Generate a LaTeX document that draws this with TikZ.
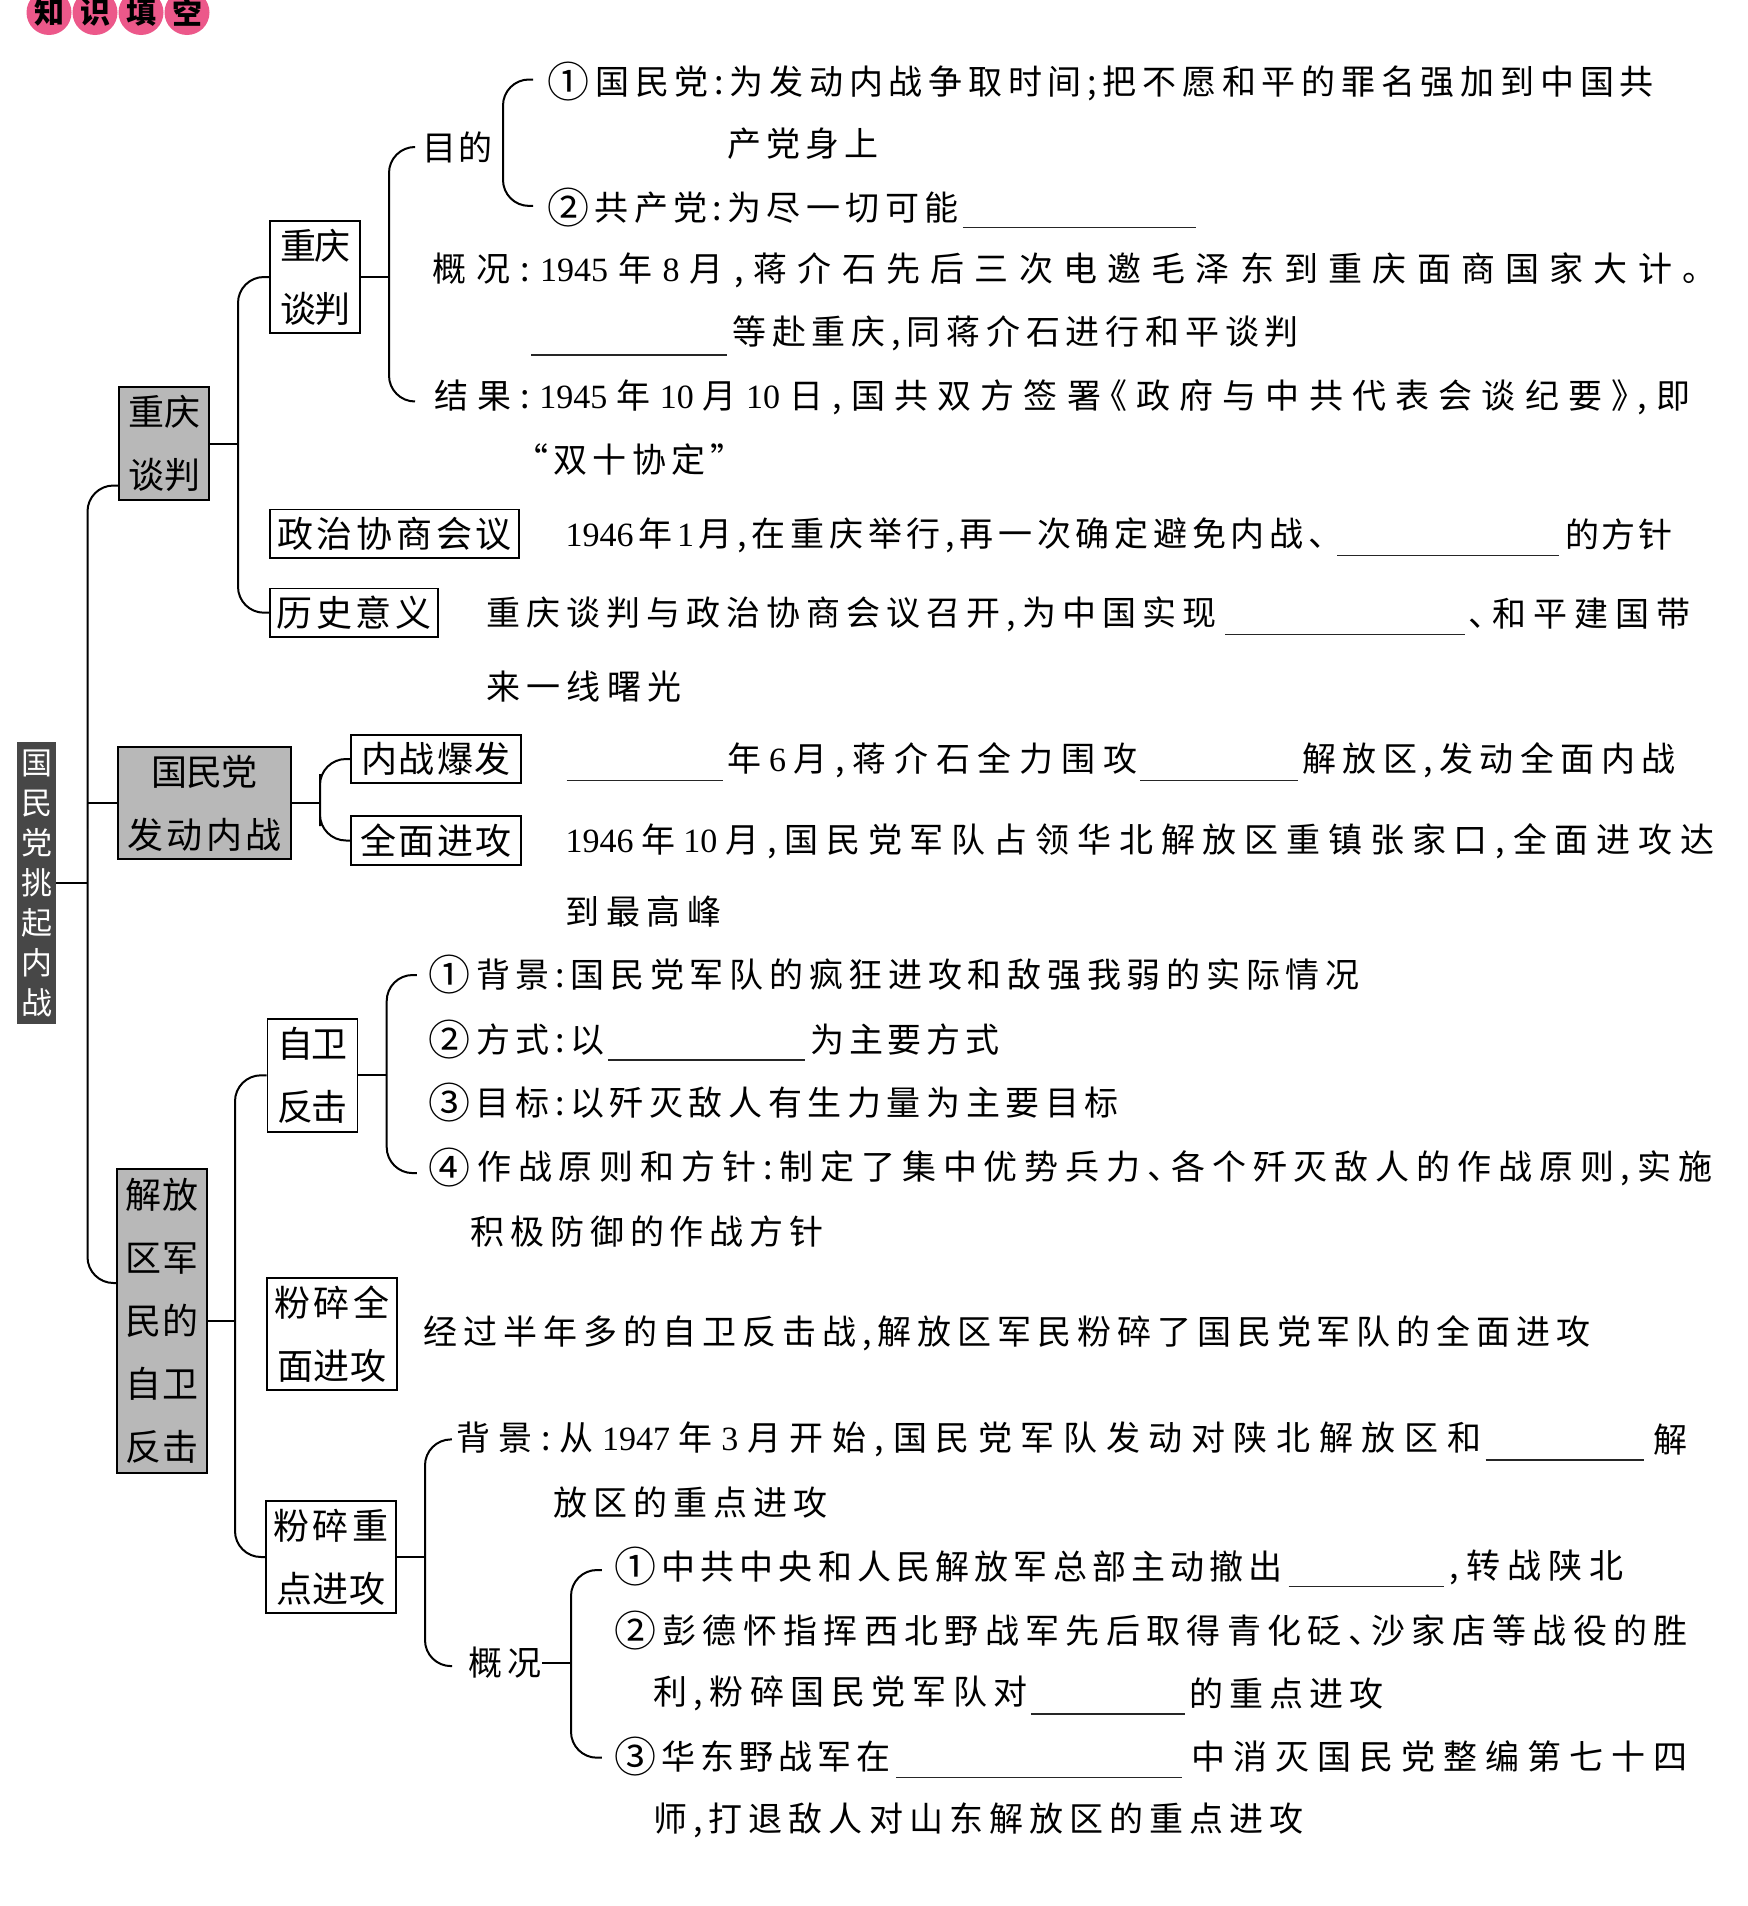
\documentclass[tikz,border=0pt]{standalone}
\usepackage{fontspec}
\setmainfont{Noto Sans CJK SC}
\newfontfamily\latfont{Liberation Serif}
\newcommand\Dg[1]{{\latfont #1}}
\newcommand\cn[1]{\raisebox{-1.6pt}{\fontsize{21}{21}\selectfont #1}}
\newcommand\dun{\hbox to 0.5em{、\hss}}
\newcommand\lbk{\hbox to 0.5em{\hss《}}
\newcommand\rbk{\hbox to 0.5em{》\hss}}
\newcommand\lqm{\hbox to 0.5em{\hss“}}
\newcommand\rqm{\hbox to 0.5em{”\hss}}
\def\gp{\hskip0pt plus 1fil minus 1fil\relax}
\def\sprd#1{\sprdfirst#1\relax}
\def\sprdfirst#1{#1\sprdrest}
\def\sprdrest#1{\ifx\relax#1\else\gp#1\expandafter\sprdrest\fi}
\newcommand\TL[5]{\node[txt] (#1) at (#2,#4) {\hbox to \dimexpr(#3pt-#2pt)/2\relax{\sprd{#5}}};}
\newcommand\BL[3]{\draw[blank] (#1,#3) -- (#2,#3);}
\newcommand\BX[2]{\hbox to \dimexpr #1pt/2\relax{\sprd{#2}}}
\definecolor{pinkc}{RGB}{236,88,138}
\begin{document}
\begin{tikzpicture}[x=0.5pt,y=-0.5pt]
\tikzset{
  box/.style={draw, line width=0.9pt, inner sep=0, align=center, font=\fontsize{18}{31.5}\selectfont},
  gbox/.style={box, fill=black!28},
  rootbox/.style={fill=black!72, text=white, inner sep=0, align=center, font=\fontsize{15.5}{20}\selectfont},
  badge/.style={circle, fill=pinkc, minimum size=22.5pt, inner sep=0, font=\fontsize{15}{15}\selectfont\bfseries},
  conn/.style={line width=1pt, rounded corners=13pt},
  blank/.style={line width=0.6pt, black!85},
  txt/.style={anchor=west, inner sep=0, font=\fontsize{17}{34}\selectfont},
}
\useasboundingbox (0,0) rectangle (1747,1906);
\fill[white] (0,0) rectangle (1747,1906);

% badge
\node[badge] (k1) at (49,12.5) {知};
\node[badge] (k2) at (95,12.5) {识};
\node[badge] (k3) at (141,12.5) {填};
\node[badge] (k4) at (187,12.5) {空};

% root
\node[rootbox, minimum width=19.5pt, minimum height=141pt] (root) at (36.5,883) {国\\民\\党\\挑\\起\\内\\战};

% level 1 boxes
\node[gbox, minimum width=45pt, minimum height=56.5pt] (b1) at (164,443.5) {\BX{72}{重庆}\\\BX{72}{谈判}};
\node[gbox, minimum width=86.5pt, minimum height=56pt] (b2) at (204.5,803) {\BX{106.6}{国民党}\\\BX{155}{发动内战}};
\node[gbox, minimum width=45pt, minimum height=152pt] (b3) at (162,1321) {\BX{73}{解放}\\\BX{73}{区军}\\\BX{73}{民的}\\\BX{73}{自卫}\\\BX{73}{反击}};

% level 2 boxes
\node[box, minimum width=45pt, minimum height=56pt] (sub) at (315,277) {\BX{70}{重庆}\\\BX{70}{谈判}};
\node[box, minimum width=124.5pt, minimum height=24.3pt] (zz) at (394.5,533.7) {\BX{235}{政治协商会议}};
\node[box, minimum width=83.85pt, minimum height=24.3pt] (hs) at (353.85,612.7) {\BX{154.6}{历史意义}};
\node[box, minimum width=85pt, minimum height=24pt] (nz) at (436,759) {\BX{150}{内战爆发}};
\node[box, minimum width=85pt, minimum height=24.5pt] (qm) at (436,840.5) {\BX{152}{全面进攻}};
\node[box, minimum width=45pt, minimum height=56.5pt] (zw) at (312.5,1075.3) {\BX{70.4}{自卫}\\\BX{70.4}{反击}};
\node[box, minimum width=65pt, minimum height=56pt] (qz) at (332,1334) {\BX{115}{粉碎全}\\\BX{110}{面进攻}};
\node[box, minimum width=65pt, minimum height=56pt] (zd) at (331,1557) {\BX{115}{粉碎重}\\\BX{110}{点进攻}};

% texts: 重庆谈判
\TL{md}{422}{492}{147}{目的}
\TL{t1}{547.1}{1653.4}{81.5}{{\cn{①}}国民党:为发动内战争取时间;把不愿和平的罪名强加到中国共}
\TL{t2}{727}{877.7}{143.5}{产党身上}
\TL{t3}{547.1}{958}{207.9}{{\cn{②}}共产党:为尽一切可能}
\BL{962.8}{1196.3}{227.3}
\TL{t4}{431.6}{1716}{269.9}{概况:{\Dg{1945}}年{\Dg{8}}月,蒋介石先后三次电邀毛泽东到重庆面商国家大计。}
\BL{531.3}{727}{355}
\TL{t5}{731.9}{1298.4}{333.1}{等赴重庆,同蒋介石进行和平谈判}
\TL{t6}{434}{1689.8}{397.5}{结果:{\Dg{1945}}年{\Dg{10}}月{\Dg{10}}日,国共双方签署{\lbk}政府与中共代表会谈纪要{\rbk},即}
\TL{t7}{531.3}{727}{459.5}{{\lqm}双十协定{\rqm}}
\TL{t8}{565.3}{1325}{534.9}{{\Dg{1946}}年{\Dg{1}}月,在重庆举行,再一次确定避免内战{\dun}}
\BL{1337.3}{1558.5}{555.6}
\TL{t8b}{1564.6}{1671.6}{534.9}{的方针}
\TL{t9}{486.3}{1215.7}{613.9}{重庆谈判与政治协商会议召开,为中国实现}
\BL{1225.4}{1465}{634.6}
\TL{t9b}{1468}{1689.8}{613.9}{{\dun}和平建国带}
\TL{t10}{486.3}{680.8}{686.9}{来一线曙光}

% texts: 国民党发动内战
\BL{566.5}{723.3}{780.5}
\TL{t11}{727}{1136.7}{759.8}{年{\Dg{6}}月,蒋介石全力围攻}
\BL{1140.3}{1298.4}{780.5}
\TL{t11b}{1302}{1675.2}{759.8}{解放区,发动全面内战}
\TL{t12}{565.3}{1714.1}{841.3}{{\Dg{1946}}年{\Dg{10}}月,国民党军队占领华北解放区重镇张家口,全面进攻达}
\TL{t13}{565.3}{720.9}{911.8}{到最高峰}

% texts: 自卫反击
\TL{t14}{427.9}{1359.2}{975}{{\cn{①}}背景:国民党军队的疯狂进攻和敌强我弱的实际情况}
\TL{t15}{427.9}{604.2}{1039.4}{{\cn{②}}方式:以}
\BL{607.9}{804.8}{1060}
\TL{t15b}{809.7}{999.3}{1039.4}{为主要方式}
\TL{t16}{427.9}{1118.4}{1102.6}{{\cn{③}}目标:以歼灭敌人有生力量为主要目标}
\TL{t17}{427.9}{1711.7}{1167.1}{{\cn{④}}作战原则和方针:制定了集中优势兵力{\dun}各个歼灭敌人的作战原则,实施}
\TL{t18}{470.5}{823}{1231.5}{积极防御的作战方针}
\TL{t19}{423.1}{1590.1}{1333.6}{经过半年多的自卫反击战,解放区军民粉碎了国民党军队的全面进攻}

% texts: 粉碎重点进攻
\TL{t20}{455.9}{1480.7}{1439.4}{背景:从{\Dg{1947}}年{\Dg{3}}月开始,国民党军队发动对陕北解放区和}
\BL{1485.6}{1643.6}{1460}
\TL{t20b}{1653.4}{1687.4}{1439.4}{解}
\TL{t21}{553.1}{826.7}{1502.6}{放区的重点进攻}
\TL{gk}{468}{541}{1663.1}{概况}
\TL{t23}{613.9}{1282.6}{1567}{{\cn{①}}中共中央和人民解放军总部主动撤出}
\BL{1288.6}{1444.3}{1586.5}
\TL{t23b}{1449.1}{1623}{1567}{,转战陕北}
\TL{t24}{613.9}{1687.4}{1630.3}{{\cn{②}}彭德怀指挥西北野战军先后取得青化砭{\dun}沙家店等战役的胜}
\TL{t25}{652.8}{1027.3}{1693.5}{利,粉碎国民党军队对}
\BL{1030.9}{1185.3}{1714}
\TL{t25b}{1189}{1383.5}{1693.5}{的重点进攻}
\TL{t26}{613.9}{889.9}{1756.7}{{\cn{③}}华东野战军在}
\BL{896}{1181.7}{1777.4}
\TL{t26b}{1191.4}{1687.4}{1756.7}{中消灭国民党整编第七十四}
\TL{t27}{652.8}{1303.2}{1819.9}{师,打退敌人对山东解放区的重点进攻}

% connectors: root
\draw[conn] (root.east) -- (87.5,883);
\draw[conn] ([yshift=-21pt]b1.west) -| (87.5,900) |- ([yshift=19pt]b3.west);
\draw[conn] (b2.west) -- (87.5,803);

% connectors: 重庆谈判
\draw[conn] (b1.east) -- (238,443.5);
\draw[conn] (sub.west) -| (238,500) |- (hs.west);
\draw[conn] (sub.east) -- (389,277);
\draw[conn] ([xshift=-4pt]md.west) -| (389,300) |- ([xshift=-9.5pt,yshift=-2pt]t6.west);
\draw[conn] ([xshift=-7pt,yshift=1pt]t1.west) -| (503,150) |- ([xshift=-7pt,yshift=1pt]t3.west);

% connectors: 国民党发动内战
\draw[conn] (b2.east) -- (320,803);
\draw[conn] (nz.west) -| (320,800) |- (qm.west);

% connectors: 解放区军民的自卫反击
\draw[conn] (b3.east) -- (235,1321);
\draw[conn] (zw.west) -| (235,1300) |- (zd.west);
\draw[conn] (zw.east) -- (386.7,1075.3);
\draw[conn] ([xshift=-5.5pt]t14.west) -| (386.7,1075) |- ([xshift=-5.5pt,yshift=-3pt]t17.west);
\draw[conn] (zd.east) -- (425,1557);
\draw[conn] ([xshift=-2pt]t20.west) -| (425,1550) |- ([xshift=-8pt,yshift=-1.5pt]gk.west);
\draw[conn] (gk.east) -- (571,1663.1);
\draw[conn] ([xshift=-6pt,yshift=-1.5pt]t23.west) -| (571,1660) |- ([xshift=-6pt,yshift=-0.5pt]t26.west);
\end{tikzpicture}
\end{document}
